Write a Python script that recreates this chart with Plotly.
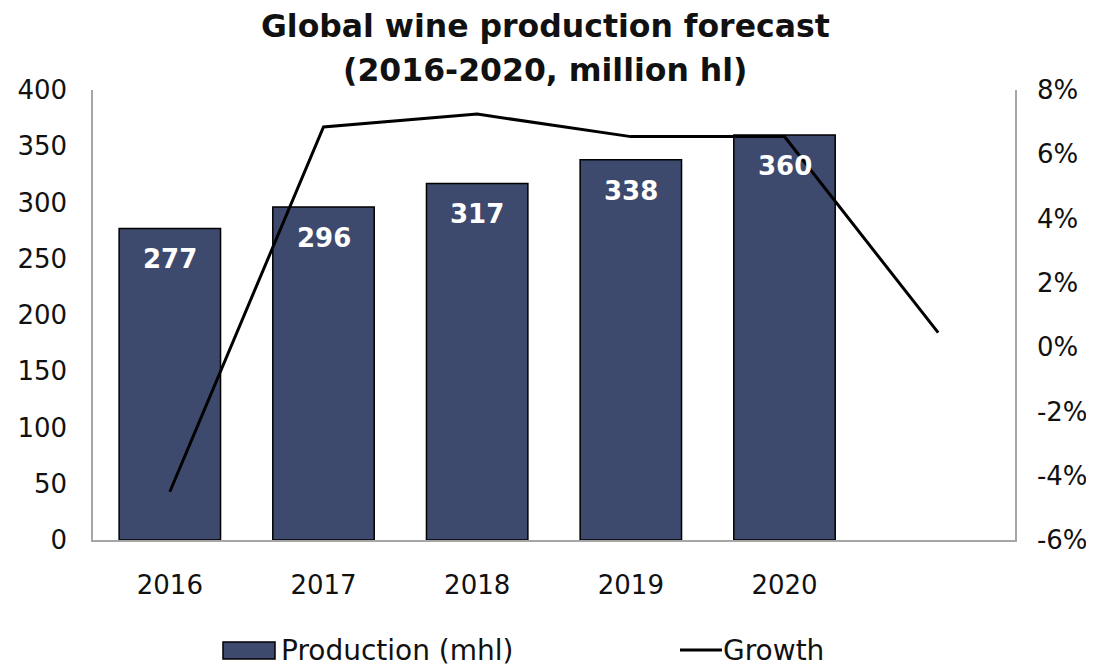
import plotly.graph_objects as go

years = ["2016", "2017", "2018", "2019", "2020"]
production = [277, 296, 317, 338, 360]
growth_labels = ["2016", "2017", "2018", "2019", "2020", ""]
growth = [-4.5, 6.85, 7.25, 6.55, 6.55, 0.45]
pct_ticks = [-6, -4, -2, 0, 2, 4, 6, 8]
pct_text = [f"{v}%" for v in pct_ticks]

FONT = "DejaVu Sans"
BAR_COLOR = "#3d4a6e"
xpos = list(range(len(growth_labels)))

fig = go.Figure()
fig.add_trace(go.Bar(
    x=xpos[:len(years)], y=production, name="Production (mhl)",
    marker=dict(color=BAR_COLOR, line=dict(color="#000000", width=1.5)),
    width=0.66, yaxis="y", showlegend=False,
))
fig.add_trace(go.Scatter(
    x=xpos, y=growth, name="Growth", mode="lines",
    line=dict(color="#000000", width=3), yaxis="y2", showlegend=False,
))

for i, v in enumerate(production):
    fig.add_annotation(x=i, y=v, text=f"<b>{v}</b>", showarrow=False,
                       yshift=-31, font=dict(family=FONT, size=26, color="white"),
                       xref="x", yref="y")

# paper-coordinate helpers (screen pixels of the plot area: x 93..1015, y 90..540)
def px_x(px):
    return (px - 93) / 922

def px_y(py):
    return (540 - py) / 450

# Title (two lines)
title_lines = ["Global wine production forecast", "(2016-2020, million hl)"]
for line, yc in zip(title_lines, [26, 70]):
    fig.add_annotation(x=px_x(545), y=px_y(yc), xref="paper", yref="paper",
                       xanchor="center", yanchor="middle", showarrow=False,
                       text=f"<b>{line}</b>",
                       font=dict(family=FONT, size=31.5, color="#111111"))

# Custom legend
fig.add_shape(type="rect", xref="paper", yref="paper",
              x0=px_x(223), x1=px_x(275), y0=px_y(659), y1=px_y(642),
              fillcolor=BAR_COLOR, line=dict(color="#000000", width=1.5))
fig.add_annotation(x=px_x(279), y=px_y(650), xref="paper", yref="paper",
                   xanchor="left", yanchor="middle", showarrow=False,
                   text="Production (mhl)", font=dict(family=FONT, size=28, color="#111111"))
fig.add_shape(type="line", xref="paper", yref="paper",
              x0=px_x(680), x1=px_x(722), y0=px_y(650), y1=px_y(650),
              line=dict(color="#000000", width=3))
fig.add_annotation(x=px_x(721), y=px_y(650), xref="paper", yref="paper",
                   xanchor="left", yanchor="middle", showarrow=False,
                   text="Growth", font=dict(family=FONT, size=28, color="#111111"))

fig.update_layout(
    width=1086, height=660,
    margin=dict(l=85, r=79, t=82, b=128, autoexpand=False),
    paper_bgcolor="white", plot_bgcolor="white",
    font=dict(family=FONT, size=26, color="#111111"),
    xaxis=dict(range=[-0.5, 5.5], tickvals=xpos[:len(years)], ticktext=years,
               showgrid=False, showline=True, linecolor="#a6a6a6", linewidth=1.5,
               ticks="", ticklabelstandoff=21, zeroline=False, automargin=False,
               tickfont=dict(size=26)),
    yaxis=dict(range=[0, 400], dtick=50, showgrid=False, showline=True,
               linecolor="#a6a6a6", linewidth=1.5, ticks="", zeroline=False,
               ticklabelstandoff=19, automargin=False, tickfont=dict(size=26)),
    yaxis2=dict(range=[-6, 8], tickvals=pct_ticks, ticktext=pct_text,
                overlaying="y", side="right",
                showgrid=False, showline=True, linecolor="#a6a6a6", linewidth=1.5,
                ticks="", zeroline=False, ticklabelstandoff=15, automargin=False,
                tickfont=dict(size=26)),
    showlegend=False,
)

fig.write_html("out.html")
